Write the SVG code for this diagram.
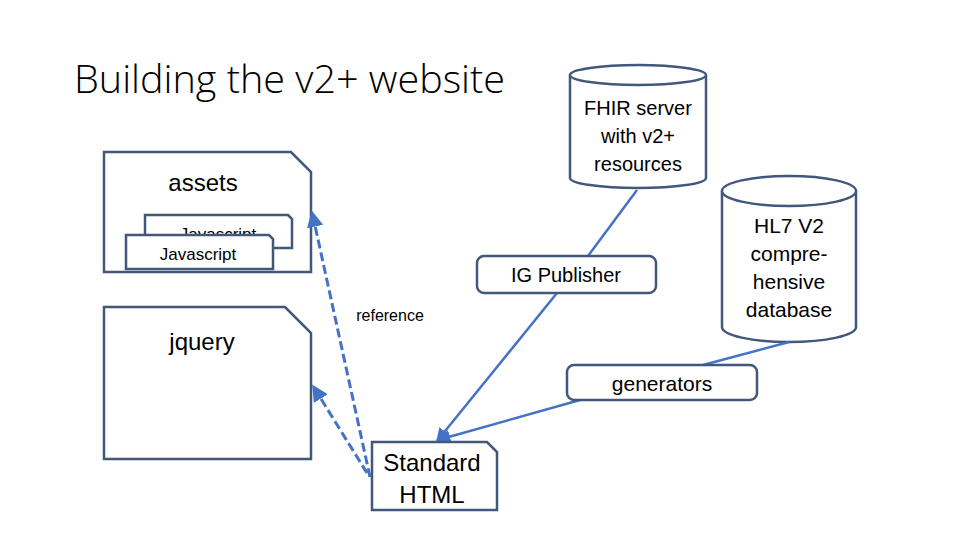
<svg xmlns="http://www.w3.org/2000/svg" width="960" height="540" viewBox="0 0 960 540">
<defs>
<marker id="arr" viewBox="0 0 10 10" refX="9" refY="5" markerWidth="5.5" markerHeight="5.5" orient="auto-start-reverse">
<path d="M0,0 L10,5 L0,10 z" fill="#4472C4"/>
</marker>
<style>
.shape{fill:#fff;stroke:#41587A;stroke-width:2.5;stroke-linejoin:miter}
.txt{font-family:"Liberation Sans",Arial,sans-serif;fill:#000;text-anchor:middle}
.conn{stroke:#4472C4;stroke-width:2.5;fill:none}
.dash{stroke:#4472C4;stroke-width:3;fill:none;stroke-dasharray:9,4}
</style>
</defs>
<rect width="960" height="540" fill="#fff"/>
<text x="74" y="93" font-family="'Open Sans','Liberation Sans',Arial,sans-serif" font-weight="300" font-size="38" fill="#000" textLength="431" lengthAdjust="spacingAndGlyphs">Building the v2+ website</text>

<g id="assets">
<path class="shape" d="M104,152 L291,152 L311,172 L311,272 L104,272 Z"/>
<text class="txt" x="203" y="191" font-size="24">assets</text>
</g>
<g id="javascript-back">
<path class="shape" d="M145,215 L288,215 L292,219 L292,248 L145,248 Z"/>
<text class="txt" x="218" y="240" font-size="17">Javascript</text>
</g>
<g id="javascript-front">
<path class="shape" d="M126,235 L269,235 L273,239 L273,269 L126,269 Z"/>
<text class="txt" x="198" y="260" font-size="17">Javascript</text>
</g>
<g id="jquery">
<path class="shape" d="M104,307 L285,307 L311,333 L311,459 L104,459 Z"/>
<text class="txt" x="202" y="350" font-size="24">jquery</text>
</g>
<g id="fhir-server">
<path class="shape" d="M570,75 L570,178 A68,10 0 0 0 706,178 L706,75"/>
<ellipse class="shape" cx="638" cy="75" rx="68" ry="10"/>
<text class="txt" x="638" y="115" font-size="20">FHIR server</text>
<text class="txt" x="638" y="143" font-size="20">with v2+</text>
<text class="txt" x="638" y="171" font-size="20">resources</text>
</g>
<g id="hl7-database">
<path class="shape" d="M722,191 L722,327 A67,15 0 0 0 856,327 L856,191"/>
<ellipse class="shape" cx="789" cy="191" rx="67" ry="15"/>
<text class="txt" x="789" y="233" font-size="21">HL7 V2</text>
<text class="txt" x="789" y="261" font-size="21">compre-</text>
<text class="txt" x="789" y="289" font-size="21">hensive</text>
<text class="txt" x="789" y="317" font-size="21">database</text>
</g>
<g id="connectors">
<line class="conn" x1="637" y1="190" x2="588" y2="256"/>
<line class="conn" x1="557" y1="293" x2="437" y2="441" marker-end="url(#arr)"/>
<line class="conn" x1="789" y1="342" x2="703" y2="365"/>
<line class="conn" x1="580" y1="400" x2="438" y2="440" marker-end="url(#arr)"/>
<line class="dash" x1="370" y1="477" x2="312" y2="212" marker-end="url(#arr)"/>
<line class="dash" x1="367" y1="473" x2="313" y2="386" marker-end="url(#arr)"/>
<text class="txt" x="390" y="321" font-size="16">reference</text>
</g>
<g id="ig-publisher">
<rect class="shape" x="477" y="256" width="179" height="37" rx="7"/>
<text class="txt" x="566" y="282" font-size="20">IG Publisher</text>
</g>
<g id="generators">
<rect class="shape" x="567" y="365" width="190" height="35" rx="7"/>
<text class="txt" x="662" y="391" font-size="21">generators</text>
</g>
<g id="standard-html">
<path class="shape" d="M372,442 L487,442 L497,452 L497,510 L372,510 Z"/>
<text class="txt" x="432" y="471" font-size="24">Standard</text>
<text class="txt" x="432" y="503" font-size="24">HTML</text>
</g>
</svg>
